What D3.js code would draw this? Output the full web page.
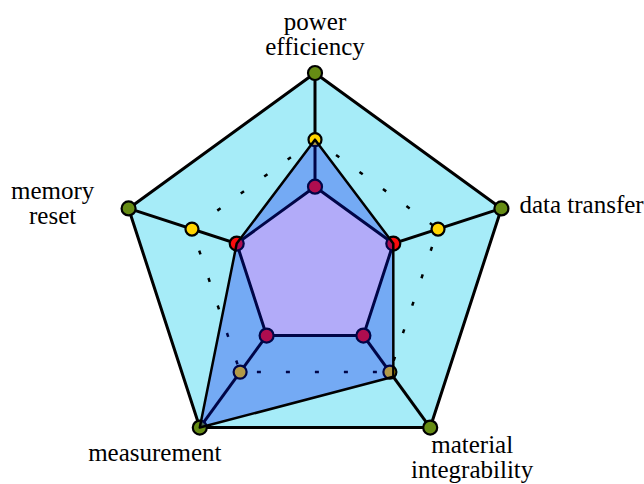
<!DOCTYPE html>
<html>
<head>
<meta charset="utf-8">
<script src="https://cdn.jsdelivr.net/npm/d3@7"></script>
<style>
    html, body { margin: 0; padding: 0; background: #ffffff; }
    svg { display: block; }
    .label { font-family: 'Liberation Serif', 'DejaVu Serif', serif; }
</style>
</head>
<body>
<div id="chart"></div>
<script>
// 轴名称（多行）
const axes = [
    ['power', 'efficiency'],
    ['data transfer'],
    ['material', 'integrability'],
    ['measurement'],
    ['memory', 'reset']
]
// 各层数值 (0-100)
const outerLevel = [100, 100, 100, 100, 100]
const midLevel = [66, 66, 65, 65, 66]
const innerLevel = [42, 42, 42, 42, 42]
const blueSeries = [66, 42, 68, 100, 42]

class RadarChart {
    constructor (option) {
        this.options = option
        this.init()
        this.draw()
    }

    init () {
        let opt = this.options
        this.svg = d3.select(opt.el).append('svg')
            .attr('width', opt.width)
            .attr('height', opt.height)

        this.g = this.svg.append('g')
            .attr('transform', `translate(${opt.cx}, ${opt.cy})`)

        this.r = d3.scaleLinear().domain([0, 100]).range([0, opt.radius])
        this.angle = d3.scaleLinear().domain([0, axes.length]).range([0, Math.PI * 2])

        this.line = d3.lineRadial()
            .angle((d, i) => this.angle(i))
            .radius(d => this.r(d))
            .curve(d3.curveLinearClosed)
    }

    pt (v, i) {
        return d3.pointRadial(this.angle(i), this.r(v))
    }

    dots (values, fill, radius) {
        this.g.append('g')
            .selectAll('circle')
            .data(values)
            .enter()
            .append('circle')
            .attr('cx', (d, i) => this.pt(d, i)[0])
            .attr('cy', (d, i) => this.pt(d, i)[1])
            .attr('r', radius)
            .attr('fill', fill)
            .attr('stroke', '#000')
            .attr('stroke-width', 2.2)
    }

    draw () {
        let { g, line } = this

        // 外层五边形
        g.append('path')
            .attr('d', line(outerLevel))
            .attr('fill', '#a6ecf8')
            .attr('stroke', '#000')
            .attr('stroke-width', 3)
            .attr('stroke-linejoin', 'round')

        // 中间虚线
        g.append('path')
            .attr('d', line(midLevel))
            .attr('fill', 'none')
            .attr('stroke', '#000')
            .attr('stroke-width', 2.5)
            .attr('stroke-dasharray', '4 25')
            .attr('stroke-dashoffset', 3)

        // 轴线
        g.append('g')
            .selectAll('line')
            .data(outerLevel)
            .enter()
            .append('line')
            .attr('x1', 0)
            .attr('y1', 0)
            .attr('x2', (d, i) => this.pt(d, i)[0])
            .attr('y2', (d, i) => this.pt(d, i)[1])
            .attr('stroke', '#000')
            .attr('stroke-width', 3)

        // 内层五边形
        g.append('path')
            .attr('d', line(innerLevel))
            .attr('fill', '#ffeeff')
            .attr('stroke', '#000')
            .attr('stroke-width', 3)
            .attr('stroke-linejoin', 'round')

        // 圆点
        this.dots(outerLevel, '#668c14', 7)
        this.dots(midLevel, '#ffd400', 6.5)
        this.dots(innerLevel, '#fa0c0c', 7)

        // 蓝色区域（半透明覆盖）
        g.append('path')
            .attr('d', line(blueSeries))
            .attr('fill', 'rgb(0, 16, 235)')
            .attr('fill-opacity', 0.3)
            .attr('stroke', '#000')
            .attr('stroke-width', 2.5)
            .attr('stroke-linejoin', 'round')

        // 标签
        let labelPos = this.options.labels
        let lh = this.options.lineHeight
        let labels = g.append('g')
            .attr('class', 'label')
            .attr('font-size', this.options.fontSize)
            .attr('fill', '#000')
            .selectAll('text')
            .data(axes)
            .enter()
            .append('text')
            .attr('x', (d, i) => this.pt(100, i)[0] + labelPos[i].dx)
            .attr('y', (d, i) => this.pt(100, i)[1] + labelPos[i].dy)
            .attr('text-anchor', (d, i) => labelPos[i].anchor)

        labels.each(function (d, i) {
            let t = d3.select(this)
            let x = t.attr('x')
            d.forEach((s, k) => {
                t.append('tspan')
                    .attr('x', x)
                    .attr('dy', k === 0 ? 0 : lh)
                    .text(s)
            })
        })
    }
}

new RadarChart({
    el: '#chart',
    width: 644,
    height: 484,
    cx: 315,
    cy: 269,
    radius: 196,
    fontSize: 25,
    lineHeight: 25,
    labels: [
        { dx: 0, dy: -43, anchor: 'middle' },
        { dx: 18, dy: 4.5, anchor: 'start' },
        { dx: 42, dy: 25.5, anchor: 'middle' },
        { dx: -45, dy: 33, anchor: 'middle' },
        { dx: -76, dy: -9.5, anchor: 'middle' }
    ]
})
</script>
</body>
</html>
